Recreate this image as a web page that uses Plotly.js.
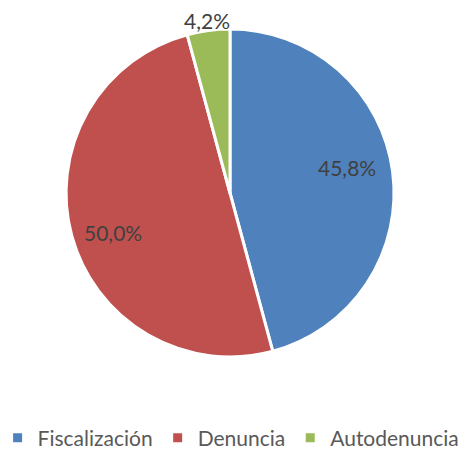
<!DOCTYPE html>
<html><head><meta charset="utf-8">
<script src="https://cdn.plot.ly/plotly-3.0.1.min.js"></script>
<style>html,body{margin:0;padding:0;background:#fff}#chart{width:465px;height:451px}</style>
</head><body><div id="chart"></div>
<script>
const labels = ['Fiscalización', 'Denuncia', 'Autodenuncia'];
const values = [45.8, 50.0, 4.2];
const colors = ['#4F81BD', '#C0504D', '#9BBB59'];
const labelRadius = [0.73, 0.75, 1.07];   // label distance as fraction of pie radius
const labelAngleShift = [-5.4, -3.3, 0]; // degrees, label placement tweak

const W = 465, H = 451;
const CX = 230, CY = 193, R = 164;

const total = values.reduce((a, b) => a + b, 0);
const annotations = [];
let cum = 0;
values.forEach((v, i) => {
  const mid = ((cum + v / 2) / total * 360 + labelAngleShift[i]) * Math.PI / 180;
  cum += v;
  const px = CX + R * labelRadius[i] * Math.sin(mid);
  const py = CY - R * labelRadius[i] * Math.cos(mid);
  annotations.push({
    xref: 'paper', yref: 'paper', x: px / W, y: 1 - (py + 1) / H,
    xanchor: 'center', yanchor: 'middle', showarrow: false,
    text: v.toFixed(1).replace('.', ',') + '%',
    font: {family: 'Lato, sans-serif', size: 21, color: '#404040'}
  });
});

Plotly.newPlot('chart', [{
  type: 'pie',
  labels: labels,
  values: values,
  sort: false,
  direction: 'clockwise',
  rotation: 0,
  marker: {colors: colors, line: {color: '#FFFFFF', width: 3}},
  textinfo: 'none',
  hoverinfo: 'label+percent',
  domain: {x: [(CX - R) / W, (CX + R) / W], y: [1 - (CY + R) / H, 1 - (CY - R) / H]}
}], {
  width: W, height: H,
  margin: {l: 0, r: 0, t: 0, b: 0, autoexpand: false},
  separators: ',.',
  paper_bgcolor: '#FFFFFF',
  showlegend: true,
  annotations: annotations,
  legend: {orientation: 'h', x: 0.497, xanchor: 'center', yref: 'container', y: 1 - 438 / H, yanchor: 'middle',
    font: {family: 'Lato, sans-serif', size: 21, color: '#595959'}, traceorder: 'normal'}
}, {displayModeBar: false, staticPlot: true});
</script></body></html>
